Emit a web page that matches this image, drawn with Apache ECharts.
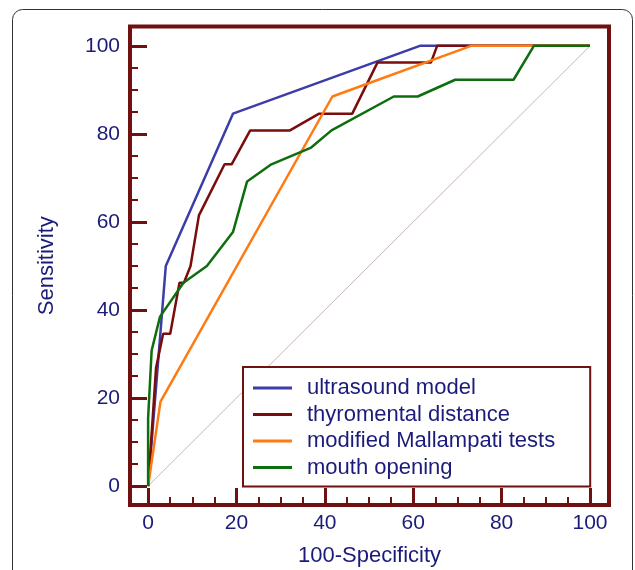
<!DOCTYPE html>
<html><head><meta charset="utf-8">
<script src="https://cdn.jsdelivr.net/npm/echarts@6/dist/echarts.min.js"></script>
<style>html,body{margin:0;padding:0;background:#fff}#c{width:635px;height:570px}</style>
</head><body><div id="c"></div>
<script>
const seriesNames = ['ultrasound model', 'thyromental distance', 'modified Mallampati tests', 'mouth opening'];
const ultrasoundX = [0, 4.0, 19.2, 61.5, 100];
const ultrasoundY = [0, 50.0, 84.6, 100, 100];
const thyromentalX = [0, 1.8, 3.4, 5.0, 7.1, 8.1, 9.6, 11.5, 17.3, 18.9, 23.1, 32.1, 38.7, 46.2, 51.9, 64.0, 65.4, 100];
const thyromentalY = [0, 26.9, 34.6, 34.6, 46.2, 46.2, 50.0, 61.5, 73.1, 73.1, 80.8, 80.8, 84.6, 84.6, 96.2, 96.2, 100, 100];
const mallampatiX = [0, 2.8, 41.7, 73.1, 100];
const mallampatiY = [0, 19.2, 88.5, 100, 100];
const mouthX = [0, 0, 0.8, 2.7, 8.0, 13.3, 19.2, 22.4, 27.9, 36.9, 41.5, 55.6, 61.0, 69.5, 82.7, 87.3, 100];
const mouthY = [0, 15.4, 30.8, 38.5, 46.2, 50.0, 57.7, 69.2, 73.1, 76.9, 80.8, 88.5, 88.5, 92.3, 92.3, 100, 100];
const diagonalX = [0, 100];
const diagonalY = [0, 100];
const majorTicks = [0, 20, 40, 60, 80, 100];
const minorTicks = [5, 10, 15, 25, 30, 35, 45, 50, 55, 65, 70, 75, 85, 90, 95];

const navy = '#1b1b7a';
const frame = '#701010';
const colors = ['#3d3da8', '#7a0c0c', '#ff7b12', '#0c6e0c'];
const font = 'Liberation Sans, Arial, sans-serif';
const zip = (xs, ys) => xs.map((x, i) => [x, ys[i]]);

function makeAxis(isX, major) {
  const range = isX ? { min: -4.1, max: 104.3 } : { min: -4.3, max: 104.4 };
  const ax = Object.assign({
    type: 'value',
    position: isX ? 'bottom' : 'left',
    offset: 0,
    axisLine: { show: false, onZero: false },
    splitLine: { show: false },
    axisTick: {
      show: true, inside: true,
      length: major ? 17 : 8,
      lineStyle: { color: frame, width: major ? 3 : 2 },
      customValues: major ? majorTicks : minorTicks
    },
    axisLabel: major ? {
      customValues: majorTicks, fontSize: 21, color: navy, fontFamily: font, margin: isX ? 8 : 10
    } : { show: false }
  }, range);
  if (major) {
    ax.name = isX ? '100-Specificity' : 'Sensitivity';
    ax.nameLocation = 'middle';
    ax.nameGap = isX ? 40 : 72;
    ax.nameTextStyle = { fontSize: 22, color: navy, fontFamily: font };
  }
  return ax;
}

const chart = echarts.init(document.getElementById('c'));
chart.setOption({
  animation: false,
  backgroundColor: '#fff',
  graphic: [{
    type: 'rect', silent: true, z: -10,
    shape: { x: 12.5, y: 9.5, width: 620, height: 600, r: 10 },
    style: { fill: 'none', stroke: '#333', lineWidth: 1 }
  }],
  grid: { left: 130, right: 26, top: 26.5, bottom: 65, outerBoundsMode: 'none', containLabel: false,
          show: true, borderColor: frame, borderWidth: 4, backgroundColor: 'transparent' },
  xAxis: [makeAxis(true, true), makeAxis(true, false)],
  yAxis: [makeAxis(false, true), makeAxis(false, false)],
  legend: {
    data: seriesNames,
    orient: 'vertical', left: 243, top: 367,
    backgroundColor: '#fff', borderColor: frame, borderWidth: 2,
    padding: [10, 35, 8, 10],
    icon: 'rect', itemWidth: 39, itemHeight: 3, itemGap: 4.5,
    textStyle: { fontSize: 22, color: navy, fontFamily: font, lineHeight: 22, padding: [0, 0, 0, 10] }
  },
  series: [
    { type: 'line', name: 'diagonal', data: zip(diagonalX, diagonalY), symbol: 'none', silent: true, z: 1,
      lineStyle: { color: '#c9b6b8', width: 1 } },
    { type: 'line', name: seriesNames[0], data: zip(ultrasoundX, ultrasoundY), symbol: 'none', color: colors[0], lineStyle: { width: 2.5 } },
    { type: 'line', name: seriesNames[1], data: zip(thyromentalX, thyromentalY), symbol: 'none', color: colors[1], lineStyle: { width: 2.5 } },
    { type: 'line', name: seriesNames[2], data: zip(mallampatiX, mallampatiY), symbol: 'none', color: colors[2], lineStyle: { width: 2.5 } },
    { type: 'line', name: seriesNames[3], data: zip(mouthX, mouthY), symbol: 'none', color: colors[3], lineStyle: { width: 2.5 } }
  ]
});
</script></body></html>
